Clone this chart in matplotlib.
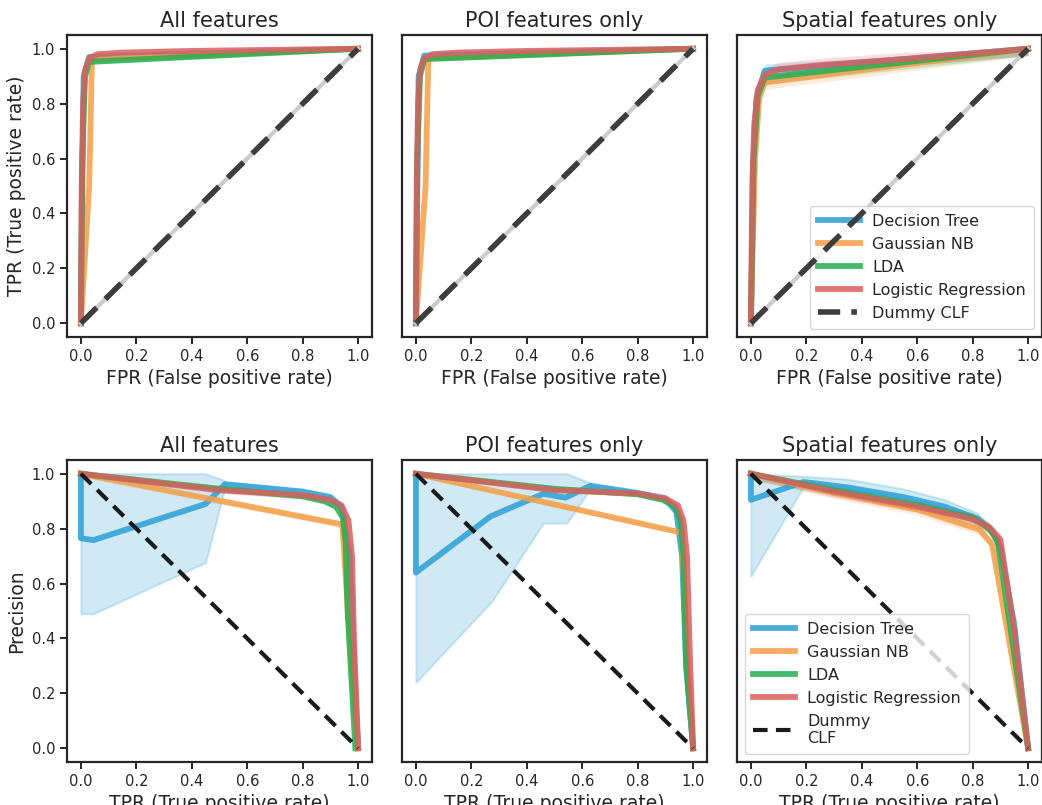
import numpy as np
import matplotlib
matplotlib.use("Agg")
import matplotlib.pyplot as plt
from matplotlib.lines import Line2D

# ---------------- data ----------------
titles = ["All features", "POI features only", "Spatial features only"]
models = ["Decision Tree", "Gaussian NB", "LDA", "Logistic Regression"]
colors = ["#2b9fd4", "#f59e47", "#27ae4f", "#d9605f"]
ticks = [0.0, 0.2, 0.4, 0.6, 0.8, 1.0]

# ROC curves (FPR, TPR) per panel per model
roc_all = {
    "Decision Tree": ([0, 0.01, 0.03, 1.0], [0, 0.9, 0.97, 1.0]),
    "Gaussian NB": ([0, 0.03, 0.04, 1.0], [0, 0.5, 0.962, 1.0]),
    "LDA": ([0, 0.005, 0.015, 0.03, 1.0], [0, 0.6, 0.9, 0.952, 1.0]),
    "Logistic Regression": ([0, 0.003, 0.008, 0.015, 0.03, 0.06, 0.15, 0.4, 1.0],
                            [0, 0.5, 0.8, 0.92, 0.965, 0.98, 0.986, 0.992, 1.0]),
}
roc_poi = {
    "Decision Tree": ([0, 0.01, 0.03, 1.0], [0, 0.9, 0.975, 1.0]),
    "Gaussian NB": ([0, 0.035, 0.045, 1.0], [0, 0.5, 0.965, 1.0]),
    "LDA": ([0, 0.005, 0.015, 0.03, 1.0], [0, 0.6, 0.9, 0.962, 1.0]),
    "Logistic Regression": ([0, 0.003, 0.008, 0.015, 0.03, 0.06, 0.15, 0.4, 1.0],
                            [0, 0.5, 0.8, 0.92, 0.965, 0.98, 0.986, 0.992, 1.0]),
}
roc_spa = {
    "Decision Tree": ([0, 0.01, 0.02, 0.05, 1.0], [0, 0.6, 0.82, 0.92, 1.0]),
    "Gaussian NB": ([0, 0.015, 0.03, 0.05, 1.0], [0, 0.6, 0.82, 0.877, 1.0]),
    "LDA": ([0, 0.01, 0.025, 0.05, 1.0], [0, 0.6, 0.83, 0.895, 1.0]),
    "Logistic Regression": ([0, 0.005, 0.012, 0.025, 0.05, 0.1, 0.25, 0.55, 1.0],
                            [0, 0.5, 0.72, 0.85, 0.905, 0.925, 0.94, 0.962, 1.0]),
}
roc_band = [0.006, 0.006, 0.025]

# Precision-recall curves (TPR, precision)
pr_all = {
    "Decision Tree": ([0, 0, 0.045, 0.45, 0.52, 0.8, 0.9, 0.94, 0.97, 0.985, 1.0],
                      [1.0, 0.765, 0.758, 0.89, 0.962, 0.935, 0.915, 0.88, 0.7, 0.3, 0.0]),
    "Gaussian NB": ([0, 0.943, 0.97, 1.0], [1.0, 0.815, 0.4, 0.0]),
    "LDA": ([0, 0.5, 0.8, 0.88, 0.92, 0.945, 0.955, 0.962, 0.99],
            [1.0, 0.945, 0.918, 0.9, 0.88, 0.84, 0.75, 0.5, 0.0]),
    "Logistic Regression": ([0, 0.5, 0.8, 0.9, 0.94, 0.965, 0.978, 0.985, 1.0],
                            [1.0, 0.94, 0.922, 0.905, 0.885, 0.83, 0.7, 0.4, 0.0]),
}
# Decision-tree spread envelope (until it joins the curve)
pr_all_dt_upper = ([0, 0.045, 0.45, 0.52], [1.0, 1.0, 1.0, 0.975])
pr_all_dt_lower = ([0, 0.045, 0.45, 0.52], [0.49, 0.49, 0.677, 0.952])

pr_poi = {
    "Decision Tree": ([0, 0, 0.27, 0.46, 0.54, 0.63, 0.8, 0.9, 0.94, 0.96, 0.975, 1.0],
                      [1.0, 0.64, 0.845, 0.927, 0.913, 0.956, 0.93, 0.91, 0.86, 0.7, 0.3, 0.0]),
    "Gaussian NB": ([0, 0.96, 0.975, 1.0], [1.0, 0.785, 0.4, 0.0]),
    "LDA": ([0, 0.5, 0.8, 0.89, 0.935, 0.955, 0.965, 0.975, 1.0],
            [1.0, 0.945, 0.925, 0.905, 0.88, 0.83, 0.7, 0.3, 0.0]),
    "Logistic Regression": ([0, 0.5, 0.8, 0.9, 0.945, 0.965, 0.978, 0.988, 1.0],
                            [1.0, 0.94, 0.928, 0.91, 0.885, 0.83, 0.7, 0.35, 0.0]),
}
pr_poi_dt_upper = ([0, 0.545, 0.63], [1.0, 1.0, 0.966])
pr_poi_dt_lower = ([0, 0.275, 0.46, 0.545, 0.63], [0.24, 0.536, 0.82, 0.82, 0.946])

pr_spa = {
    "Decision Tree": ([0, 0, 0.19, 0.35, 0.55, 0.7, 0.82, 0.87, 0.9, 0.95, 1.0],
                      [1.0, 0.905, 0.97, 0.95, 0.915, 0.88, 0.835, 0.79, 0.73, 0.45, 0.0]),
    "Gaussian NB": ([0, 0.3, 0.6, 0.824, 0.87, 1.0], [1.0, 0.93, 0.87, 0.797, 0.743, 0.0]),
    "LDA": ([0, 0.3, 0.6, 0.8, 0.86, 0.89, 1.0],
            [1.0, 0.94, 0.885, 0.84, 0.8, 0.755, 0.0]),
    "Logistic Regression": ([0, 0.3, 0.6, 0.8, 0.86, 0.9, 0.95, 1.0],
                            [1.0, 0.935, 0.88, 0.835, 0.805, 0.76, 0.43, 0.0]),
}
pr_spa_dt_upper = ([0, 0.2, 0.35, 0.55, 0.7, 0.82], [1.0, 0.99, 0.98, 0.945, 0.905, 0.855])
pr_spa_dt_lower = ([0, 0.19, 0.35, 0.55, 0.7, 0.82], [0.627, 0.953, 0.935, 0.9, 0.865, 0.815])
pr_band = [0.012, 0.008, 0.02]
dt_tail_band = [0.008, 0.008, 0.02]

roc_data = [roc_all, roc_poi, roc_spa]
pr_data = [pr_all, pr_poi, pr_spa]
dt_bands = [(pr_all_dt_upper, pr_all_dt_lower), (pr_poi_dt_upper, pr_poi_dt_lower),
            (pr_spa_dt_upper, pr_spa_dt_lower)]

# ---------------- style ----------------
plt.rcParams.update({
    "font.family": ["DejaVu Sans"],
    "axes.edgecolor": "#262626",
    "axes.linewidth": 1.6,
    "xtick.color": "#262626",
    "ytick.color": "#262626",
    "xtick.major.width": 1.4,
    "ytick.major.width": 1.4,
    "xtick.major.size": 5,
    "ytick.major.size": 5,
    "xtick.labelsize": 10.5,
    "ytick.labelsize": 10.5,
    "text.color": "#262626",
    "axes.labelcolor": "#262626",
})

fig = plt.figure(figsize=(10.42, 8.05), dpi=100)
lefts = [67 / 1042, 402 / 1042, 737 / 1042]
w = 305 / 1042
h = 302 / 805
bottoms = [1 - 337 / 805, 1 - 762 / 805]

LW = 4.2
ALPHA = 0.85

for c in range(3):
    # ---- ROC ----
    ax = fig.add_axes([lefts[c], bottoms[0], w, h])
    d = roc_data[c]
    for i, m in enumerate(models):
        x, y = d[m]
        x = np.array(x, float); y = np.array(y, float)
        ax.fill_between(x, np.clip(y - roc_band[c], 0, 1), np.clip(y + roc_band[c], 0, 1),
                        color=colors[i], alpha=0.2, lw=0)
    for i, m in enumerate(models):
        x, y = d[m]
        ax.plot(x, y, color=colors[i], lw=LW, alpha=ALPHA)
    ax.plot([0, 1], [0, 1], color="#cccccc", lw=3, zorder=5)
    ax.plot([0, 1], [0, 1], color="#3d3d3d", lw=4, dashes=(4, 2.2), zorder=6)
    ax.set_xlim(-0.05, 1.05)
    ax.set_ylim(-0.05, 1.05)
    ax.set_xticks(ticks)
    ax.set_yticks(ticks)
    ax.set_title(titles[c], fontsize=15)
    ax.set_xlabel("FPR (False positive rate)", fontsize=13.5)
    if c == 0:
        ax.set_ylabel("TPR (True positive rate)", fontsize=13.5)
    else:
        ax.tick_params(axis="y", left=False, labelleft=False)
    if c == 2:
        handles = [Line2D([], [], color=colors[i], lw=LW, alpha=ALPHA) for i in range(4)]
        handles.append(Line2D([], [], color="#3d3d3d", lw=4, linestyle=(0, (4, 2, 1, 2))))
        ax.legend(handles, models + ["Dummy CLF"], loc="lower right", fontsize=11.5,
                  frameon=True, framealpha=0.8, edgecolor="#cccccc", handlelength=2.6,
                  borderpad=0.5, labelspacing=0.5)

    # ---- PR ----
    ax = fig.add_axes([lefts[c], bottoms[1], w, h])
    d = pr_data[c]
    up, lo = dt_bands[c]
    dtx, dty = d["Decision Tree"]
    xs = np.linspace(0, 1, 600)
    x_join = up[0][-1]
    head = xs <= x_join
    tail = xs >= x_join
    ax.fill_between(xs[head], np.interp(xs[head], lo[0], lo[1]), np.interp(xs[head], up[0], up[1]),
                    color=colors[0], alpha=0.22, lw=1.5, edgecolor=colors[0])
    dtx_a = np.array(dtx, float); dty_a = np.array(dty, float)
    k = dtx_a >= x_join
    tx = np.concatenate([[x_join], dtx_a[k]])
    ty = np.concatenate([[np.interp(x_join, dtx_a[2:], dty_a[2:])], dty_a[k]])
    ax.fill_between(tx, np.clip(ty - dt_tail_band[c], 0, 1), np.clip(ty + dt_tail_band[c], 0, 1),
                    color=colors[0], alpha=0.22, lw=0)
    for i, m in enumerate(models[1:], start=1):
        x, y = d[m]
        x = np.array(x, float); y = np.array(y, float)
        ax.fill_between(x, np.clip(y - pr_band[c], 0, 1), np.clip(y + pr_band[c], 0, 1),
                        color=colors[i], alpha=0.2, lw=0)
    for i, m in enumerate(models):
        x, y = d[m]
        ax.plot(x, y, color=colors[i], lw=LW, alpha=ALPHA)
    ax.plot([0, 1], [1, 0], color="#1a1a1a", lw=3, linestyle="--", dashes=(3.5, 2), zorder=6)
    ax.set_xlim(-0.05, 1.05)
    ax.set_ylim(-0.05, 1.05)
    ax.set_xticks(ticks)
    ax.set_yticks(ticks)
    ax.set_title(titles[c], fontsize=15)
    ax.set_xlabel("TPR (True positive rate)", fontsize=13.5)
    if c == 0:
        ax.set_ylabel("Precision", fontsize=13.5)
    else:
        ax.tick_params(axis="y", left=False, labelleft=False)
    if c == 2:
        handles = [Line2D([], [], color=colors[i], lw=LW, alpha=ALPHA) for i in range(4)]
        handles.append(Line2D([], [], color="#1a1a1a", lw=3, linestyle="--", dashes=(3.5, 2)))
        leg = ax.legend(handles, models + ["Dummy\nCLF"], loc="lower left", fontsize=11.5,
                        frameon=True, framealpha=0.8, edgecolor="#cccccc", handlelength=2.6,
                        borderpad=0.5, labelspacing=0.5)
        leg.set_zorder(10)

fig.savefig("out.png", dpi=100)
